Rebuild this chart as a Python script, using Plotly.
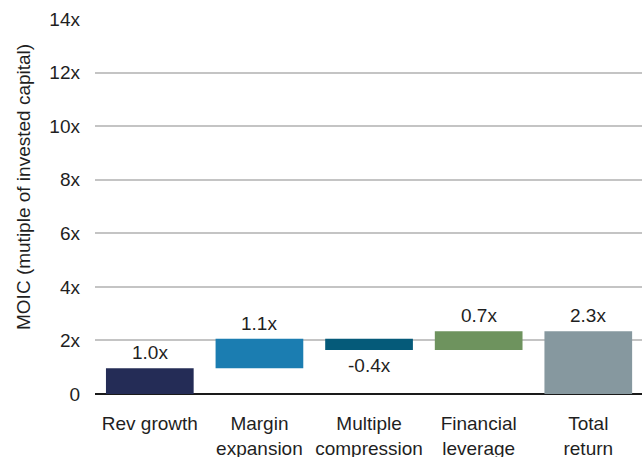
import plotly.graph_objects as go

# Return attribution, MOIC contribution of each driver
categories = ["Rev growth", "Margin<br>expansion", "Multiple<br>compression",
              "Financial<br>leverage", "Total<br>return"]
step_values = [0.96, 1.10, -0.42, 0.70]
total_value = 2.34
bar_colors = ["#242c56", "#1b7db1", "#055a79", "#6e935e", "#86989f"]
y_ticks = [0, 2, 4, 6, 8, 10, 12, 14]
y_tick_labels = ["0", "2x", "4x", "6x", "8x", "10x", "12x", "14x"]
y_title = "MOIC (mutiple of invested capital)"

# Floating bars: each step starts where the previous one ended
bases, heights = [], []
running = 0.0
for v in step_values:
    lo = running if v >= 0 else running + v
    bases.append(lo)
    heights.append(abs(v))
    running += v
bases.append(0.0)
heights.append(total_value)
all_values = step_values + [total_value]

font_family = "Liberation Sans, Arial, sans-serif"
text_color = "#1f1f1f"
font_size = 19

fig = go.Figure(
    go.Bar(
        x=categories,
        y=heights,
        base=bases,
        marker=dict(color=bar_colors, line=dict(width=0)),
        hoverinfo="skip",
    )
)

# Value labels: above rising bars, below falling bars
for cat, b, h, v in zip(categories, bases, heights, all_values):
    if v >= 0:
        fig.add_annotation(x=cat, y=b + h, text=f"{v:.1f}x", showarrow=False,
                           yanchor="bottom", yshift=3)
    else:
        fig.add_annotation(x=cat, y=b, text=f"{v:.1f}x", showarrow=False,
                           yanchor="top", yshift=-3)

# Vertical axis title, set a little above the middle of the plot
fig.add_annotation(xref="paper", yref="paper", x=0, y=0.552, xanchor="center",
                   yanchor="middle", xshift=-71, textangle=-90, text=y_title,
                   showarrow=False)

fig.update_annotations(font=dict(family=font_family, size=font_size, color=text_color))

fig.update_layout(
    width=642,
    height=457,
    margin=dict(l=95, r=0, t=19, b=63, autoexpand=False),
    paper_bgcolor="white",
    plot_bgcolor="white",
    bargap=0.2,
    showlegend=False,
    font=dict(family=font_family, size=font_size, color=text_color),
    xaxis=dict(
        range=[-0.5, 4.49],
        automargin=False,
        showgrid=False,
        showline=False,
        ticks="",
        ticklabelstandoff=16,
        tickfont=dict(size=font_size),
    ),
    yaxis=dict(
        range=[0, 14],
        automargin=False,
        tickvals=y_ticks,
        ticktext=y_tick_labels,
        showgrid=True,
        gridcolor="#c4c4c4",
        gridwidth=1.5,
        zeroline=True,
        zerolinecolor="#1a1a1a",
        zerolinewidth=1.5,
        showline=False,
        ticks="",
        ticklabelstandoff=14,
        tickfont=dict(size=font_size),
    ),
)

fig.write_html("out.html")
